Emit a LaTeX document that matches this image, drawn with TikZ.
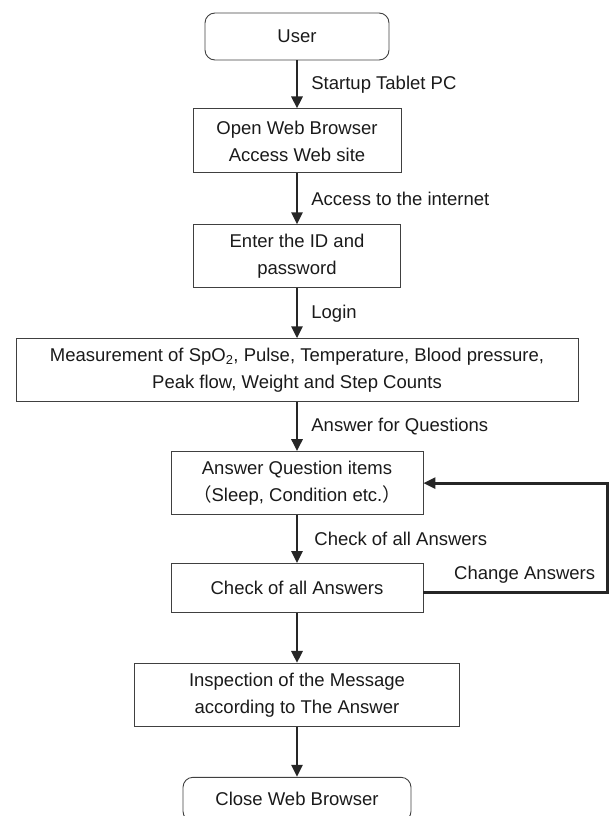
\documentclass[tikz,border=0pt]{standalone}
\usepackage{fontspec}
\setmainfont{Liberation Sans}
\newfontfamily\cjk{Noto Sans CJK SC}
\usetikzlibrary{arrows.meta, positioning}
\definecolor{boxgray}{RGB}{64, 64, 64}
\definecolor{textdark}{RGB}{26, 26, 26}

\begin{document}
\begin{tikzpicture}[
    node distance=49pt,
    box/.style={rectangle, draw=boxgray, line width=0.9pt, minimum height=63pt, align=center, inner sep=0pt, text=textdark, font=\fontsize{18.5}{27}\selectfont},
    term/.style={box, rounded corners=10pt, minimum height=47pt},
    arrow/.style={-{Triangle[length=12pt, width=11pt]}, line width=2.8pt, draw=black!85},
    edgelabel/.style={inner sep=0pt, text=textdark, font=\fontsize{18.5}{22}\selectfont}
]
\useasboundingbox (0,0) rectangle (611pt,-816pt);

% Login steps
\node[term, minimum width=184pt] (user) at (297pt,-36.5pt) {User};

\node[box, minimum width=208pt, minimum height=64pt, below=48pt of user] (browser) {Open Web Browser\\Access Web site};

\node[box, minimum width=207pt, below=51pt of browser] (login) {Enter the ID and\\password};

% Measurement and questions
\node[box, minimum width=562pt, below=50pt of login] (measure) {Measurement of SpO\textsubscript{2}, Pulse, Temperature, Blood pressure,\\Peak flow, Weight and Step Counts};

\node[box, minimum width=252pt, below=49pt of measure] (answer) {Answer Question items\\{\cjk （}Sleep, Condition etc.{\cjk ）}};

\node[box, minimum width=252pt, minimum height=49pt, below=48pt of answer] (check) {Check of all Answers};

% Message and end
\node[box, minimum width=325pt, below=50pt of check] (message) {Inspection of the Message\\according to The Answer};

\node[term, minimum width=228pt, minimum height=44pt, below=50pt of message] (close) {Close Web Browser};

% Arrows between steps
\draw[arrow] (user) -- node[edgelabel, right=13pt] {Startup Tablet PC} (browser);
\draw[arrow] (browser) -- node[edgelabel, right=13pt] {Access to the internet} (login);
\draw[arrow] (login) -- node[edgelabel, right=13pt] {Login} (measure);
\draw[arrow] (measure) -- node[edgelabel, right=13pt] {Answer for Questions} (answer);
\draw[arrow] (answer) -- node[edgelabel, right=16pt] {Check of all Answers} (check);
\draw[arrow] (check) -- (message);
\draw[arrow] (message) -- (close);

% Feedback loop
\draw[arrow] ([yshift=-4.5pt]check.east) -- node[edgelabel, pos=0.55, above=8pt] {Change Answers} ++(184pt,0) |- (answer.east);

\end{tikzpicture}
\end{document}
